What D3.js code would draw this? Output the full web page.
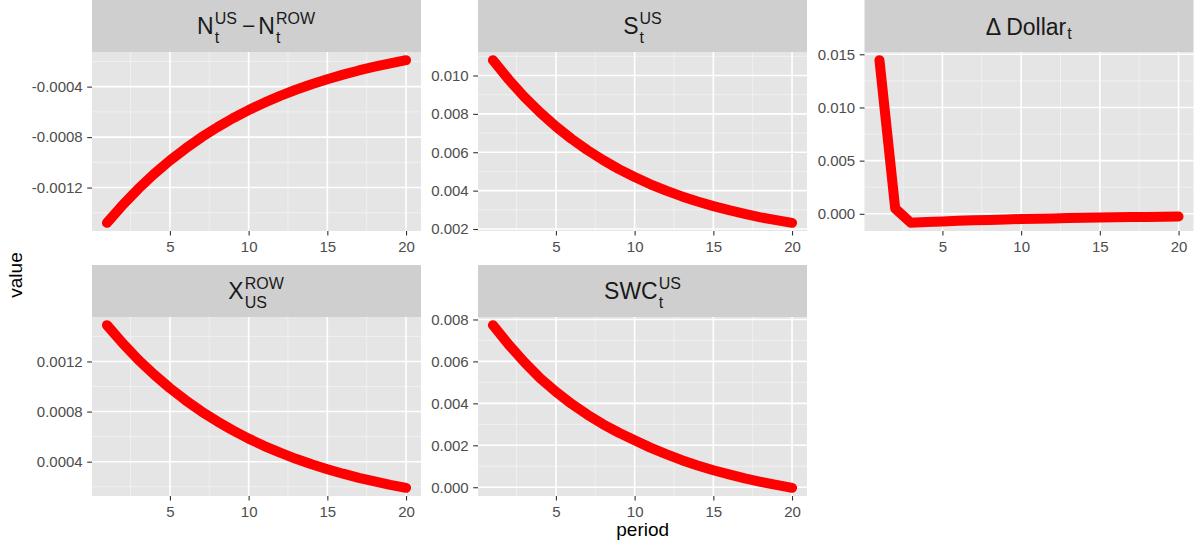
<!DOCTYPE html>
<html>
<head>
<meta charset="utf-8">
<script src="https://cdn.jsdelivr.net/npm/d3@7"></script>
<style>
  html, body { margin: 0; padding: 0; background: #ffffff; }
  svg { display: block; font-family: "Liberation Sans", Arial, Helvetica, sans-serif; }
</style>
</head>
<body>
<svg id="chart" width="1196" height="547"></svg>
<script>
// Impulse responses over 20 periods, one facet per variable.
const periods = [1, 2, 3, 4, 5, 6, 7, 8, 9, 10, 11, 12, 13, 14, 15, 16, 17, 18, 19, 20];

const nDiff = [-0.001480, -0.001338, -0.001209, -0.001092, -0.000986, -0.000890, -0.000802,
  -0.000723, -0.000651, -0.000586, -0.000527, -0.000473, -0.000425, -0.000381, -0.000341,
  -0.000305, -0.000272, -0.000242, -0.000215, -0.000190];
const sUS = [0.01080, 0.00979, 0.00888, 0.00807, 0.00734, 0.00669, 0.00611, 0.00559, 0.00512,
  0.00471, 0.00433, 0.00400, 0.00370, 0.00343, 0.00319, 0.00298, 0.00279, 0.00261, 0.00246, 0.00232];
const dDollar = [0.01445, 0.00050, -0.00085, -0.00078, -0.00072, -0.00066, -0.00061, -0.00057,
  -0.00053, -0.00049, -0.00046, -0.00043, -0.00040, -0.00037, -0.00035, -0.00033, -0.00031,
  -0.00029, -0.00027, -0.00025];
const xRowUS = [0.001490, 0.001345, 0.001213, 0.001095, 0.000987, 0.000890, 0.000801, 0.000722,
  0.000650, 0.000584, 0.000525, 0.000472, 0.000423, 0.000379, 0.000340, 0.000304, 0.000271,
  0.000242, 0.000215, 0.000191];
const swcUS = [0.00773, 0.00680, 0.00596, 0.00520, 0.00455, 0.00397, 0.00346, 0.00300, 0.00260,
  0.00224, 0.00189, 0.00158, 0.00129, 0.00104, 0.00081, 0.00061, 0.00042, 0.00026, 0.00011, -0.00003];

// Axis breaks and their printed labels
const periodTicks = [5, 10, 15, 20];
const periodLabels = ["5", "10", "15", "20"];
const nTicks = [-0.0012, -0.0008, -0.0004];
const nLabels = ["-0.0012", "-0.0008", "-0.0004"];
const sTicks = [0.002, 0.004, 0.006, 0.008, 0.010];
const sLabels = ["0.002", "0.004", "0.006", "0.008", "0.010"];
const dTicks = [0.000, 0.005, 0.010, 0.015];
const dLabels = ["0.000", "0.005", "0.010", "0.015"];
const xTicks = [0.0004, 0.0008, 0.0012];
const xLabels = ["0.0004", "0.0008", "0.0012"];
const swcTicks = [0.000, 0.002, 0.004, 0.006, 0.008];
const swcLabels = ["0.000", "0.002", "0.004", "0.006", "0.008"];

// Facet titles: base text with stacked super/subscripts
const nTitle = [{b: "N"}, {sup: "US", sub: "t"}, {b: "\u2212", op: true}, {b: "N"}, {sup: "ROW", sub: "t"}];
const sTitle = [{b: "S"}, {sup: "US", sub: "t"}];
const dTitle = [{b: "\u0394 Dollar"}, {sub: "t"}];
const xTitle = [{b: "X"}, {sup: "ROW", sub: "US"}];
const swcTitle = [{b: "SWC"}, {sup: "US", sub: "t"}];

const facets = [
  {title: nTitle, values: nDiff, ticks: nTicks, labels: nLabels},
  {title: sTitle, values: sUS, ticks: sTicks, labels: sLabels},
  {title: dTitle, values: dDollar, ticks: dTicks, labels: dLabels},
  {title: xTitle, values: xRowUS, ticks: xTicks, labels: xLabels},
  {title: swcTitle, values: swcUS, ticks: swcTicks, labels: swcLabels}
];

// Layout
const colLeft = [92, 478, 864.5];
const panelW = 329;
const stripTop = [0, 265];
const stripH = 52;
const panelH = 179;
const BASE = 23, SCRIPT = 16;

const svg = d3.select("#chart");

function drawTitle(g, parts, cx, cy) {
  const t = g.append("g").attr("fill", "#1A1A1A");
  let x = 0;
  parts.forEach(p => {
    if (p.b !== undefined) {
      if (p.op) x += 5;
      const el = t.append("text").attr("x", x).attr("y", 0)
        .style("font-size", BASE + "px").text(p.b);
      x += el.node().getComputedTextLength();
      if (p.op) x += 3;
    } else {
      x += 1;
      let w = 0;
      if (p.sup) {
        const e = t.append("text").attr("x", x).attr("y", -10)
          .style("font-size", SCRIPT + "px").text(p.sup);
        w = Math.max(w, e.node().getComputedTextLength());
      }
      if (p.sub) {
        const e = t.append("text").attr("x", x).attr("y", p.sup ? 9 : 4)
          .style("font-size", SCRIPT + "px").text(p.sub);
        w = Math.max(w, e.node().getComputedTextLength());
      }
      x += w;
    }
  });
  const bb = t.node().getBBox();
  t.attr("transform", `translate(${cx - (bb.x + bb.width / 2)},${cy + 1.5 - (bb.y + bb.height / 2)})`);
}

function minorBreaks(ticks, domain) {
  const step = ticks[1] - ticks[0];
  const out = [];
  const lo = Math.min(domain[0], domain[1]), hi = Math.max(domain[0], domain[1]);
  for (let i = -1; i < ticks.length; i++) {
    const v = (i < 0 ? ticks[0] - step : ticks[i]) + step / 2;
    if (v > lo && v < hi) out.push(v);
  }
  return out;
}

facets.forEach((f, i) => {
  const col = i % 3, row = Math.floor(i / 3);
  const left = colLeft[col];
  const sTop = stripTop[row];
  const pTop = sTop + stripH;
  const g = svg.append("g");

  // strip
  g.append("rect").attr("x", left).attr("y", sTop).attr("width", panelW).attr("height", stripH)
    .attr("fill", "#CFCFCF");
  drawTitle(g, f.title, left + panelW / 2, sTop + stripH / 2);

  // scales with 5% padding on both axes
  const xExt = d3.extent(periods), xPad = (xExt[1] - xExt[0]) * 0.05;
  const x = d3.scaleLinear().domain([xExt[0] - xPad, xExt[1] + xPad]).range([left, left + panelW]);
  const yExt = d3.extent(f.values), yPad = (yExt[1] - yExt[0]) * 0.05;
  const y = d3.scaleLinear().domain([yExt[0] - yPad, yExt[1] + yPad]).range([pTop + panelH, pTop]);

  // panel background and grid
  g.append("rect").attr("x", left).attr("y", pTop).attr("width", panelW).attr("height", panelH)
    .attr("fill", "#E5E5E5");
  const xMinor = minorBreaks(periodTicks, x.domain());
  const yMinor = minorBreaks(f.ticks, y.domain());
  g.selectAll(null).data(yMinor).join("line")
    .attr("x1", left).attr("x2", left + panelW).attr("y1", d => y(d)).attr("y2", d => y(d))
    .attr("stroke", "#F2F2F2").attr("stroke-width", 0.9);
  g.selectAll(null).data(xMinor).join("line")
    .attr("y1", pTop).attr("y2", pTop + panelH).attr("x1", d => x(d)).attr("x2", d => x(d))
    .attr("stroke", "#F2F2F2").attr("stroke-width", 0.9);
  g.selectAll(null).data(f.ticks).join("line")
    .attr("x1", left).attr("x2", left + panelW).attr("y1", d => y(d)).attr("y2", d => y(d))
    .attr("stroke", "#FFFFFF").attr("stroke-width", 1.6);
  g.selectAll(null).data(periodTicks).join("line")
    .attr("y1", pTop).attr("y2", pTop + panelH).attr("x1", d => x(d)).attr("x2", d => x(d))
    .attr("stroke", "#FFFFFF").attr("stroke-width", 1.6);

  // the response line
  const line = d3.line().x((d, k) => x(periods[k])).y(d => y(d));
  g.append("path").datum(f.values).attr("d", line)
    .attr("fill", "none").attr("stroke", "#FF0000").attr("stroke-width", 10)
    .attr("stroke-linecap", "round").attr("stroke-linejoin", "round");

  // axes
  const yAxis = d3.axisLeft(y).tickValues(f.ticks).tickFormat((d, k) => f.labels[k])
    .tickSize(4.8).tickPadding(4.5);
  const ya = g.append("g").attr("transform", `translate(${left},0)`).call(yAxis);
  const xAxis = d3.axisBottom(x).tickValues(periodTicks).tickFormat((d, k) => periodLabels[k])
    .tickSize(4.5).tickPadding(5.5);
  const xa = g.append("g").attr("transform", `translate(0,${pTop + panelH})`).call(xAxis);
  [ya, xa].forEach(a => {
    a.select(".domain").remove();
    a.selectAll(".tick line").attr("stroke", "#333333").attr("stroke-width", 1.1);
    a.selectAll(".tick text").attr("fill", "#4D4D4D")
      .style("font-size", "15px").style("font-family", "\"Liberation Sans\", Arial, sans-serif");
  });
});

// axis titles
svg.append("text").attr("transform", "translate(22,275) rotate(-90)")
  .attr("text-anchor", "middle").style("font-size", "19px").attr("fill", "#000")
  .text("value");
svg.append("text").attr("x", 642.7).attr("y", 536)
  .attr("text-anchor", "middle").style("font-size", "19px").attr("fill", "#000")
  .text("period");
</script>
</body>
</html>
